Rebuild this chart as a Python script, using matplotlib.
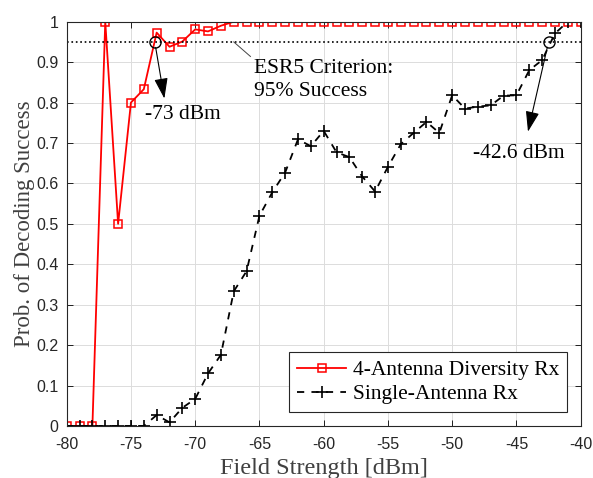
import numpy as np
from matplotlib import pyplot as plt

plt.rcParams['axes.unicode_minus'] = False

field = list(range(-80, -39))

diversity = [0, 0, 0, 1.0, 0.5, 0.8, 0.833, 0.973, 0.938, 0.951, 0.981, 0.976, 0.99,
             1, 1, 1, 1, 1, 1, 1, 1, 1, 1, 1, 1, 1, 1, 1, 1, 1, 1, 1, 1, 1, 1, 1, 1, 1, 1, 1, 1]

single = [0, 0, 0, 0, 0, 0, 0, 0.027, 0.009, 0.045, 0.067, 0.13, 0.176, 0.333, 0.383,
          0.52, 0.578, 0.627, 0.709, 0.692, 0.73, 0.677, 0.665, 0.617, 0.58, 0.641,
          0.697, 0.725, 0.752, 0.725, 0.818, 0.785, 0.79, 0.793, 0.817, 0.818, 0.88,
          0.905, 0.971, 1.0, 1.0]

xticks = [-80, -75, -70, -65, -60, -55, -50, -45, -40]
yticks = [0, 0.1, 0.2, 0.3, 0.4, 0.5, 0.6, 0.7, 0.8, 0.9, 1]
ytick_labels = ['0', '0.1', '0.2', '0.3', '0.4', '0.5', '0.6', '0.7', '0.8', '0.9', '1']

criterion = 0.95
cross_div = -73.15
cross_single = -42.5

serif = ['Liberation Serif', 'DejaVu Serif']

fig = plt.figure(figsize=(5.93, 4.78), dpi=100)
ax = fig.add_axes([0.1125, 0.1088, 0.8667, 0.8458])

ax.plot(field, diversity, color='red', lw=1.3, marker='s', markersize=5.5,
        markerfacecolor='none', markeredgewidth=1.1, label='4-Antenna Diversity Rx')
ax.plot(field, single, color='black', lw=1.3, ls=(0, (4, 4)), marker='+', markersize=9,
        markeredgewidth=1.2, label='Single-Antenna Rx')
ax.axhline(criterion, color='black', ls=':', lw=1.2)

ax.plot([cross_div, cross_single], [criterion, criterion], 'o', markersize=8,
        markerfacecolor='none', markeredgecolor='black', markeredgewidth=1.0)

arrow = dict(arrowstyle='-|>,head_width=0.3,head_length=0.9', color='black', lw=0.8,
             mutation_scale=14, shrinkA=4, shrinkB=0)
ax.annotate('', xy=(-72.4, 0.81), xytext=(cross_div, criterion), arrowprops=arrow)
ax.text(-73.9, 0.77, '-73 dBm', family=serif, fontsize=15.5, va='center', ha='left')

ax.annotate('', xy=(-44.1, 0.728), xytext=(cross_single, criterion), arrowprops=arrow)
ax.text(-48.4, 0.675, '-42.6 dBm', family=serif, fontsize=15.5, va='center', ha='left')

ax.plot([-67.0, -65.7], [criterion, 0.914], color='#444444', lw=0.7)
ax.text(-65.45, 0.855, 'ESR5 Criterion:\n95% Success', family=serif, fontsize=15.5,
        va='center', ha='left', linespacing=1.3)

ax.set_xlim(-80, -40)
ax.set_ylim(0, 1)
ax.set_xticks(xticks)
ax.set_yticks(yticks)
ax.set_yticklabels(ytick_labels)
ax.tick_params(direction='in', top=True, right=True, labelsize=11.5,
               labelcolor='#262626', length=4, width=0.6)
ax.tick_params(axis='x', pad=8)
ax.tick_params(axis='y', pad=6)
for lbl in ax.get_xticklabels() + ax.get_yticklabels():
    lbl.set_family(['Liberation Sans', 'DejaVu Sans'])
ax.grid(True, color='#dcdcdc', lw=0.7)
ax.set_axisbelow(True)
for s in ax.spines.values():
    s.set_color('#262626')
    s.set_linewidth(0.8)

ax.set_xlabel('Field Strength [dBm]', family=serif, fontsize=17.5, color='#404040', labelpad=4)
ax.set_ylabel('Prob. of Decoding Success', family=serif, fontsize=16.5, color='#404040', labelpad=1)

leg = ax.legend(loc='lower right', prop={'family': serif, 'size': 15.5}, fancybox=False,
                framealpha=1, edgecolor='#262626', handlelength=2.3, borderpad=0.35,
                labelspacing=0.2, handletextpad=0.3, borderaxespad=0.65)
leg.get_frame().set_linewidth(0.8)

plt.savefig('out.png', dpi=100)
